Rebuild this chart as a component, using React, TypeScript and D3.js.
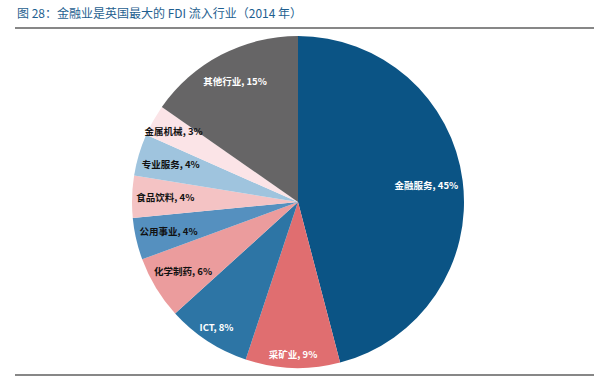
import React from "react";
import * as d3 from "d3";

const categories = ["金融服务", "采矿业", "ICT", "化学制药", "公用事业", "食品饮料", "专业服务", "金属机械", "其他行业"];
const values = [45, 9, 8, 6, 4, 4, 4, 3, 15];
const colors = ["#0b5485", "#e06e70", "#2d75a5", "#eb9c9d", "#5590bf", "#f4c3c4", "#9fc4de", "#fbe4e7", "#666566"];
const labelColors = ["#fff", "#fff", "#fff", "#111", "#111", "#111", "#111", "#111", "#fff"];
// layout: label distance from centre as a fraction of radius
const labelRadiusFactor = [0.78, 0.92, 0.9, 0.81, 0.8, 0.8, 0.8, 0.86, 0.82];

const title = "图 28：金融业是英国最大的 FDI 流入行业（2014 年）";

export default function App() {
  const W = 594, H = 383;
  const cx = 298, cy = 202, r = 166;
  const pie = d3.pie<number>().sort(null).value((d) => d);
  const arcs = pie(values);
  const arcGen = d3.arc<d3.PieArcDatum<number>>().innerRadius(0).outerRadius(r);
  const font = "'Noto Sans CJK SC', 'Noto Sans', sans-serif";
  return (
    <svg width={W} height={H} style={{ position: "absolute", left: 0, top: 0, background: "#fff" }}>
      <text x={17} y={18} fontFamily={font} fontSize={12} fill="#1f5f90">{title}</text>
      <line x1={15} x2={594} y1={28} y2={28} stroke="#111" strokeWidth={1.2} />
      <g transform={`translate(${cx},${cy})`}>
        {arcs.map((a, i) => (
          <path key={i} d={arcGen(a) || ""} fill={colors[i]} />
        ))}
        {arcs.map((a, i) => {
          const mid = (a.startAngle + a.endAngle) / 2;
          const rr = r * labelRadiusFactor[i];
          const x = Math.sin(mid) * rr;
          const y = -Math.cos(mid) * rr;
          return (
            <text key={i} x={x} y={y} dy="0.35em" textAnchor="middle" fontFamily={font} fontSize={9.5} fontWeight={700} fill={labelColors[i]}>
              {categories[i]}, {values[i]}%
            </text>
          );
        })}
      </g>
      <line x1={15} x2={594} y1={375} y2={375} stroke="#111" strokeWidth={1.2} />
    </svg>
  );
}
